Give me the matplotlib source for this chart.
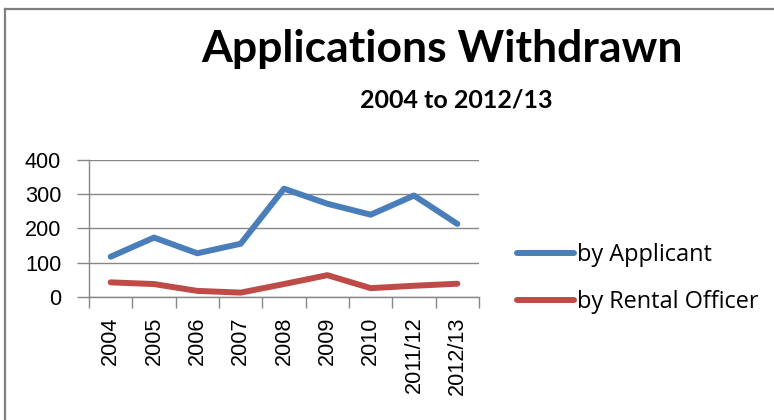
import matplotlib
matplotlib.use("Agg")
import matplotlib.pyplot as plt
from matplotlib.lines import Line2D

years = ["2004", "2005", "2006", "2007", "2008", "2009", "2010", "2011/12", "2012/13"]
by_applicant = [117, 173, 127, 155, 316, 272, 240, 296, 213]
by_rental_officer = [42, 37, 17, 12, 37, 63, 25, 32, 38]

BLUE = "#4A7EBB"
RED = "#BE4B48"
GRID = "#878787"

fig = plt.figure(figsize=(7.74, 4.2), dpi=100)
W, H = 774, 420

# outer chart frame (left and top edges only visible)
fig.add_artist(Line2D([5 / W, 5 / W], [0, 1 - 9 / H], color="#7f7f7f", lw=1.6))
fig.add_artist(Line2D([5 / W, 1], [1 - 9 / H, 1 - 9 / H], color="#7f7f7f", lw=1.6))

ax = fig.add_axes([89 / W, 1 - 296.7 / H, (479 - 89) / W, (296.7 - 160) / H])

x = list(range(len(years)))
ax.plot(x, by_applicant, color=BLUE, lw=4.3, solid_joinstyle="round",
        solid_capstyle="round", label="by Applicant")
ax.plot(x, by_rental_officer, color=RED, lw=4.3, solid_joinstyle="round",
        solid_capstyle="round", label="by Rental Officer")

ax.set_xlim(-0.5, len(years) - 0.5)
ax.set_ylim(0, 400)
ax.set_yticks([0, 100, 200, 300, 400])
ax.yaxis.grid(True, color=GRID, lw=1)
ax.set_axisbelow(True)

for side in ["top", "right"]:
    ax.spines[side].set_visible(False)
for side in ["left", "bottom"]:
    ax.spines[side].set_color(GRID)
    ax.spines[side].set_linewidth(1)

# category labels centred, tick marks between categories
ax.set_xticks(x)
ax.set_xticklabels(years, rotation=90, fontsize=15.6, family="Liberation Sans")
ax.tick_params(axis="x", which="major", length=0, pad=14)
ax.set_xticks([i - 0.5 for i in range(len(years) + 1)], minor=True)
ax.tick_params(axis="x", which="minor", length=8, color=GRID, width=1)
ax.tick_params(axis="y", length=9, color=GRID, width=1, pad=11, labelsize=15.6)
for lab in ax.get_yticklabels():
    lab.set_family("Liberation Sans")

fig.text(442 / W, 1 - 62 / H, "Applications Withdrawn", ha="center", va="baseline",
         fontsize=32, fontweight="bold", family="Lato")
fig.text(456 / W, 1 - 107 / H, "2004 to 2012/13", ha="center", va="baseline",
         fontsize=18, fontweight="bold", family="Lato")

leg = ax.legend(loc="upper left", bbox_to_anchor=(508 / W, 1 - 234 / H),
                bbox_transform=fig.transFigure, frameon=False,
                prop={"family": "Open Sans", "size": 16.9}, handlelength=2.4,
                handletextpad=0.15, labelspacing=0.97, borderaxespad=0)

fig.savefig("out.png", dpi=100)
